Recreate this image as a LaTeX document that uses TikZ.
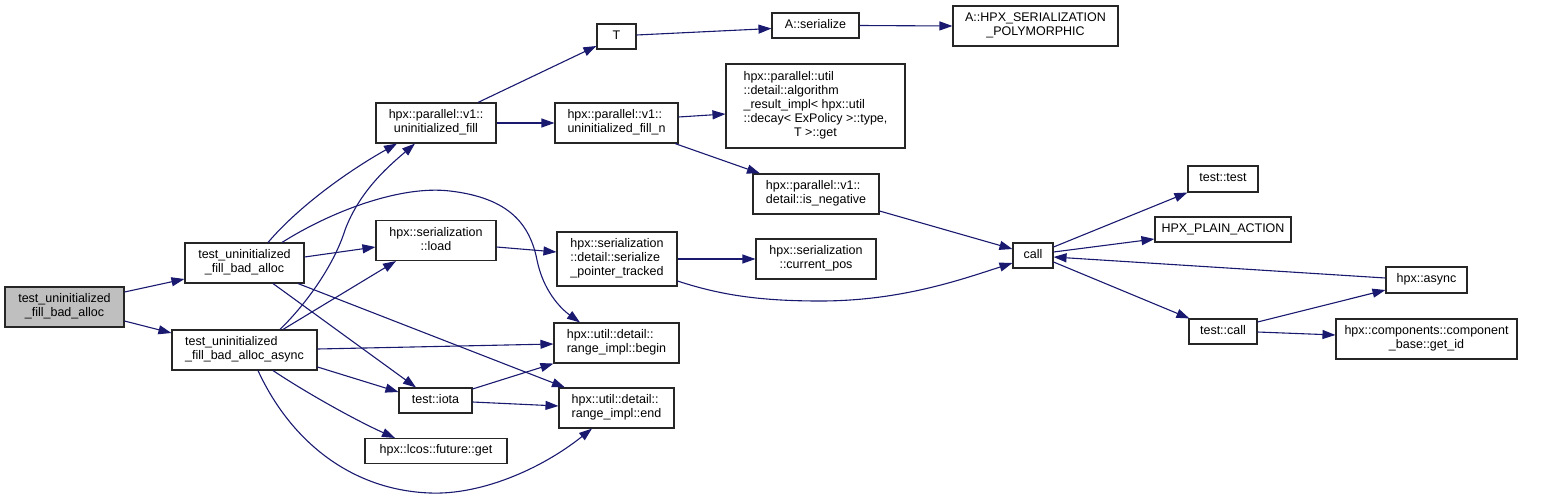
\documentclass[tikz,border=0pt]{standalone}
\usepackage{fontspec}
\setmainfont{Liberation Sans}
\usetikzlibrary{arrows.meta,calc}
\definecolor{edgec}{HTML}{191970}
\definecolor{rootfill}{HTML}{BFBFBF}
\newcommand\nodelab[1]{\begin{tabular}{@{}c@{}}#1\end{tabular}}
\newcommand\nodelabl[2]{\begin{tabular}{@{}l@{}}#1\\\multicolumn{1}{@{}c@{}}{#2}\end{tabular}}
\tikzset{
  fn/.style={draw=black!85, line width=1.1pt, fill=white, inner sep=0pt, font=\fontsize{12.5}{14}\selectfont},
  calledge/.style={draw=edgec, line width=1.1pt, -{Triangle[length=13pt,width=9pt]}, fill=none},
}
\begin{document}
\begin{tikzpicture}[x=1pt,y=-1pt]
\useasboundingbox (0,0) rectangle (1560,498);
% nodes
\node[fn, fill=rootfill, minimum width=119pt, minimum height=40pt] (root) at (64.5,307) {\nodelabl{test\_uninitialized}{\_fill\_bad\_alloc}};
\node[fn, minimum width=119pt, minimum height=40pt] (tA) at (244.5,263) {\nodelabl{test\_uninitialized}{\_fill\_bad\_alloc}};
\node[fn, minimum width=145pt, minimum height=40pt] (tB) at (244.5,350) {\nodelabl{test\_uninitialized}{\_fill\_bad\_alloc\_async}};
\node[fn, minimum width=120pt, minimum height=40pt] (uf) at (436,123) {\nodelabl{hpx::parallel::v1::}{uninitialized\_fill}};
\node[fn, minimum width=39pt, minimum height=25pt] (T) at (616.5,36.5) {\nodelab{T}};
\node[fn, minimum width=123pt, minimum height=40pt] (ufn) at (616.5,123) {\nodelabl{hpx::parallel::v1::}{uninitialized\_fill\_n}};
\node[fn, minimum width=87pt, minimum height=25pt] (aser) at (815.5,25.5) {\nodelab{A::serialize}};
\node[fn, minimum width=165pt, minimum height=40pt] (hsp) at (1035.5,26) {\nodelabl{A::HPX\_SERIALIZATION}{\_POLYMORPHIC}};
\node[fn, minimum width=179pt, minimum height=84pt] (alg) at (815.5,106) {\nodelabl{hpx::parallel::util\\::detail::algorithm\\\_result\_impl< hpx::util\\::decay< ExPolicy >::type,}{T >::get}};
\node[fn, minimum width=126pt, minimum height=40pt] (isneg) at (816,194) {\nodelabl{hpx::parallel::v1::}{detail::is\_negative}};
\node[fn, minimum width=120pt, minimum height=40pt] (load) at (436,240.5) {\nodelabl{hpx::serialization}{::load}};
\node[fn, minimum width=120pt, minimum height=54pt] (spt) at (617,259) {\nodelabl{hpx::serialization\\::detail::serialize}{\_pointer\_tracked}};
\node[fn, minimum width=125pt, minimum height=40pt] (begin) at (616.5,343) {\nodelabl{hpx::util::detail::}{range\_impl::begin}};
\node[fn, minimum width=115pt, minimum height=40pt] (end) at (616.5,408) {\nodelabl{hpx::util::detail::}{range\_impl::end}};
\node[fn, minimum width=120pt, minimum height=40pt] (cpos) at (816,259) {\nodelabl{hpx::serialization}{::current\_pos}};
\node[fn, minimum width=40pt, minimum height=25pt] (call) at (1033,255.5) {\nodelab{call}};
\node[fn, minimum width=73pt, minimum height=25pt] (iota) at (435.5,400.5) {\nodelab{test::iota}};
\node[fn, minimum width=142pt, minimum height=25pt] (fget) at (436,451) {\nodelab{hpx::lcos::future::get}};
\node[fn, minimum width=70pt, minimum height=26pt] (ttest) at (1223,179) {\nodelab{test::test}};
\node[fn, minimum width=136pt, minimum height=25pt] (hpa) at (1223,229.5) {\nodelab{HPX\_PLAIN\_ACTION}};
\node[fn, minimum width=81pt, minimum height=26pt] (async) at (1426.5,280) {\nodelab{hpx::async}};
\node[fn, minimum width=68pt, minimum height=25pt] (tcall) at (1223,331.5) {\nodelab{test::call}};
\node[fn, minimum width=181pt, minimum height=40pt] (getid) at (1426.5,339) {\nodelabl{hpx::components::component}{\_base::get\_id}};
% edges
\draw[calledge] ($(root.east)+(0,-15)$) -- ($(tA.west)+(0,16)$);
\draw[calledge] ($(root.east)+(0,14)$) -- ($(tB.west)+(0,-17)$);
\draw[calledge] ($(tA.north)+(23.5,0)$) .. controls (300,205) and (350,170) .. ($(uf.south)+(-39,0)$);
\draw[calledge] ($(tA.north)+(37.5,0)$) .. controls (330,212) and (400,185) .. (450,191)
   .. controls (510,198) and (530,225) .. (537,260)
   .. controls (543,290) and (560,308) .. ($(begin.north)+(-36.5,0)$);
\draw[calledge] ($(tA.east)+(0,-6)$) -- ($(load.west)+(0,6.5)$);
\draw[calledge] ($(tA.south)+(28.5,0)$) -- ($(iota.north)+(-19.5,0)$);
\draw[calledge] ($(tA.south)+(53.5,0)$) -- ($(end.north)+(-51.5,0)$);
\draw[calledge] ($(tB.north)+(35.5,0)$) .. controls (310,300) and (335,262) .. (345,230)
   .. controls (360,190) and (390,165) .. ($(uf.south)+(-21,0)$);
\draw[calledge] ($(tB.north)+(38.5,0)$) -- ($(load.south)+(-40,0)$);
\draw[calledge] ($(tB.east)+(0,-1)$) -- ($(begin.west)+(0,1)$);
\draw[calledge] ($(tB.east)+(0,17)$) -- ($(iota.west)+(0,-8.5)$);
\draw[calledge] ($(tB.south)+(28.5,0)$) .. controls (305,392) and (355,420) .. ($(fget.north)+(-41,0)$);
\draw[calledge] ($(tB.south)+(13.5,0)$) .. controls (290,440) and (350,490) .. (430,493)
   .. controls (480,495) and (540,470) .. ($(end.south)+(-24.5,0)$);
\draw[calledge] ($(uf.north)+(42,0)$) -- ($(T.west)+(0,9.5)$);
\draw[calledge] (uf.east) -- (ufn.west);
\draw[calledge] ($(T.east)+(0,-1.5)$) -- ($(aser.west)+(0,3)$);
\draw[calledge] (aser.east) -- (hsp.west);
\draw[calledge] ($(ufn.east)+(0,-6)$) -- ($(alg.west)+(0,8)$);
\draw[calledge] ($(ufn.south)+(58.5,0)$) -- ($(isneg.north)+(-56,0)$);
\draw[calledge] ($(isneg.east)+(0,17)$) -- ($(call.west)+(0,-6.5)$);
\draw[calledge] ($(load.east)+(0,6.5)$) -- ($(spt.west)+(0,-7)$);
\draw[calledge] (spt.east) -- (cpos.west);
\draw[calledge] ($(spt.east)+(0,22)$) .. controls (720,295) and (760,301) .. (820,301)
   .. controls (900,301) and (960,280) .. ($(call.west)+(0,7.5)$);
\draw[calledge] ($(call.east)+(0,-8.5)$) -- (ttest.south west);
\draw[calledge] ($(call.east)+(0,-3.5)$) -- ($(hpa.west)+(0,9.5)$);
\draw[calledge] ($(async.west)+(0,-2)$) -- ($(call.east)+(0,1.5)$);
\draw[calledge] ($(call.east)+(0,6.5)$) -- ($(tcall.north west)+(1,0)$);
\draw[calledge] ($(tcall.east)+(0,-9.5)$) -- ($(async.west)+(0,10)$);
\draw[calledge] ($(tcall.east)+(0,0.5)$) -- ($(getid.west)+(0,-4)$);
\draw[calledge] ($(iota.east)+(0,-11.5)$) -- (begin.south west);
\draw[calledge] ($(iota.east)+(0,1.5)$) -- ($(end.west)+(0,-2)$);
\end{tikzpicture}
\end{document}
